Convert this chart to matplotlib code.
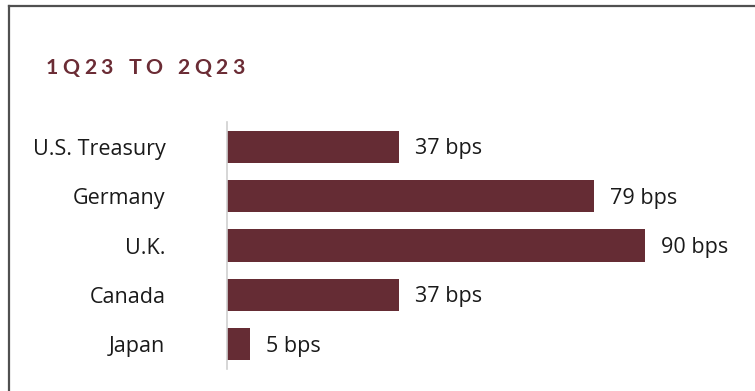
import matplotlib
matplotlib.use("Agg")
from matplotlib import pyplot as plt
from matplotlib.lines import Line2D

# Yield change by market, 1Q23 to 2Q23 (bps)
countries = ["U.S. Treasury", "Germany", "U.K.", "Canada", "Japan"]
change_bps = [37, 79, 90, 37, 5]
value_labels = ["37 bps", "79 bps", "90 bps", "37 bps", "5 bps"]
title = "1Q23 TO 2Q23"

BAR_COLOR = "#652c34"
TITLE_COLOR = "#6b2c35"
TEXT_COLOR = "#1a1a1a"
FONT = ["Open Sans", "DejaVu Sans"]

W, H = 755, 391


def spaced_text(fig, x_px, y, s, spacing, space_px, **kw):
    # matplotlib has no letter-spacing, so lay the characters out one by one
    renderer = fig.canvas.get_renderer()
    px = x_px
    for ch in s:
        if ch == " ":
            px += space_px
            continue
        t = fig.text(px / W, y, ch, **kw)
        px += t.get_window_extent(renderer).width + spacing


fig = plt.figure(figsize=(W / 100, H / 100), dpi=100)
fig.patch.set_facecolor("white")

# frame: top and left rules only
fig.add_artist(Line2D([9 / W, 1], [1 - 6 / H, 1 - 6 / H], color="#505050", lw=1.6))
fig.add_artist(Line2D([9 / W, 9 / W], [0, 1 - 6 / H], color="#505050", lw=1.6))

spaced_text(fig, 46, 1 - 74 / H, title, 4.3, 11, color=TITLE_COLOR, fontsize=15.3,
            fontweight="bold", family=["Lato", "DejaVu Sans"], va="baseline")

ax = fig.add_axes([226.6 / W, 1 - 369 / H, (748 - 226.6) / W, 247 / H])
y = range(len(countries))
ax.barh(y, change_bps, height=0.65, color=BAR_COLOR)

px_per_unit = 418.4 / 90
ax.set_xlim(0, (748 - 226.6) / px_per_unit)
ax.set_ylim(4.5, -0.5)

for i, (v, lab) in enumerate(zip(change_bps, value_labels)):
    ax.annotate(lab, (v, i), xytext=(11.5, -1.5), textcoords="offset points",
                va="center", ha="left", fontsize=15.5, family=FONT, color=TEXT_COLOR)

ax.set_yticks(list(y))
ax.set_yticklabels(countries, fontsize=15.5, family=FONT, color=TEXT_COLOR)
ax.tick_params(axis="y", length=0, pad=44)
ax.set_xticks([])
for side in ["top", "right", "bottom"]:
    ax.spines[side].set_visible(False)
ax.spines["left"].set_color("#d0d0d0")
ax.spines["left"].set_linewidth(1.2)

fig.savefig("out.png", dpi=100)
